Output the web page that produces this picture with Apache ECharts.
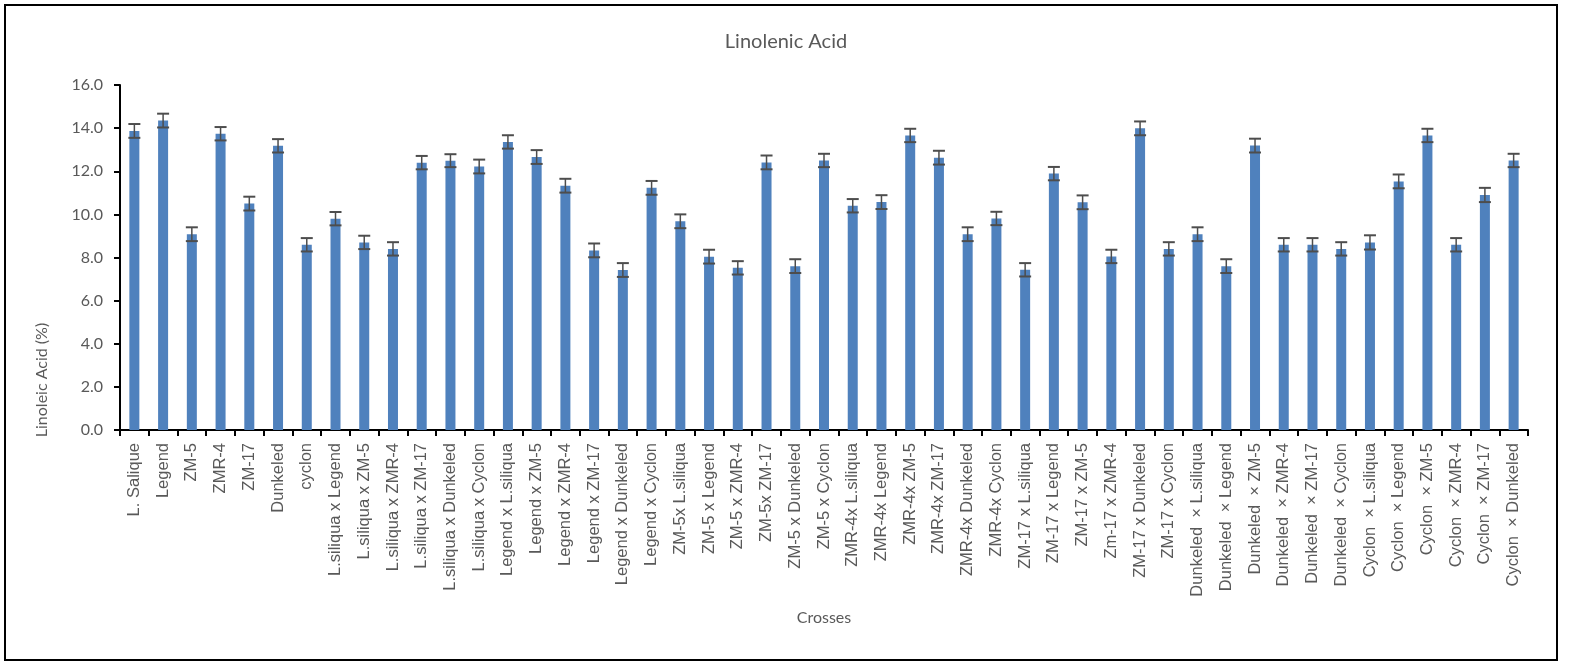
<!DOCTYPE html>
<html>
<head>
<meta charset="utf-8">
<script src="https://cdn.jsdelivr.net/npm/echarts@6/dist/echarts.min.js"></script>
<style>
  html, body { margin: 0; padding: 0; background: #fff; }
  #chart { width: 1583px; height: 666px; }
</style>
</head>
<body>
<div id="chart"></div>
<script>
// Parents and their crosses
const categories = [
  'L. Salique', 'Legend', 'ZM-5', 'ZMR-4', 'ZM-17', 'Dunkeled', 'cyclon',
  'L.siliqua x Legend', 'L.siliqua x ZM-5', 'L.siliqua x ZMR-4', 'L.siliqua x ZM-17',
  'L.siliqua x Dunkeled', 'L.siliqua x Cyclon',
  'Legend x L.siliqua', 'Legend x ZM-5', 'Legend x ZMR-4', 'Legend x ZM-17',
  'Legend x Dunkeled', 'Legend x Cyclon',
  'ZM-5x L.siliqua', 'ZM-5 x Legend', 'ZM-5 x ZMR-4', 'ZM-5x ZM-17',
  'ZM-5 x Dunkeled', 'ZM-5 x Cyclon',
  'ZMR-4x L.siliqua', 'ZMR-4x Legend', 'ZMR-4x ZM-5', 'ZMR-4x ZM-17',
  'ZMR-4x Dunkeled', 'ZMR-4x Cyclon',
  'ZM-17 x L.siliqua', 'ZM-17 x Legend', 'ZM-17 x ZM-5', 'Zm-17 x ZMR-4',
  'ZM-17 x Dunkeled', 'ZM-17 x Cyclon',
  'Dunkeled  \u00d7 L.siliqua', 'Dunkeled  \u00d7 Legend', 'Dunkeled  \u00d7 ZM-5',
  'Dunkeled  \u00d7 ZMR-4', 'Dunkeled  \u00d7 ZM-17', 'Dunkeled  \u00d7 Cyclon',
  'Cyclon  \u00d7 L.siliqua', 'Cyclon  \u00d7 Legend', 'Cyclon  \u00d7 ZM-5',
  'Cyclon  \u00d7 ZMR-4', 'Cyclon  \u00d7 ZM-17', 'Cyclon  \u00d7 Dunkeled'
];

// Mean linolenic acid content (%)
const meanValues = [
  13.87, 14.35, 9.08, 13.74, 10.50, 13.18, 8.59,
  9.80, 8.70, 8.40, 12.40, 12.49, 12.22,
  13.36, 12.66, 11.33, 8.33, 7.42, 11.23,
  9.68, 8.04, 7.52, 12.41, 7.60, 12.50,
  10.40, 10.57, 13.66, 12.63, 9.08, 9.81,
  7.43, 11.89, 10.56, 8.05, 13.99, 8.40,
  9.08, 7.60, 13.19, 8.59, 8.59, 8.40,
  8.70, 11.53, 13.66, 8.59, 10.90, 12.50
];

// Standard error of each mean
const errorValues = [
  0.32, 0.32, 0.32, 0.31, 0.32, 0.31, 0.31,
  0.31, 0.31, 0.31, 0.31, 0.30, 0.32,
  0.31, 0.32, 0.32, 0.32, 0.32, 0.32,
  0.32, 0.32, 0.31, 0.32, 0.32, 0.31,
  0.31, 0.32, 0.31, 0.32, 0.32, 0.31,
  0.31, 0.31, 0.32, 0.31, 0.32, 0.31,
  0.32, 0.32, 0.32, 0.31, 0.31, 0.31,
  0.33, 0.32, 0.31, 0.31, 0.33, 0.31
];

const yTicks = { min: 0, max: 16, interval: 2 };

const textColor = '#595959';
const errorData = meanValues.map((v, i) => [i, v - errorValues[i], v + errorValues[i]]);

const chart = echarts.init(document.getElementById('chart'), null, { renderer: 'canvas' });

chart.setOption({
  animation: false,
  backgroundColor: '#ffffff',
  title: {
    text: 'Linolenic Acid',
    left: 781,
    top: 27,
    textAlign: 'center',
    textStyle: { fontFamily: 'Lato', fontSize: 20, fontWeight: 'normal', color: textColor }
  },
  grid: { left: 120, right: 55, top: 85, bottom: 236, containLabel: false },
  xAxis: {
    type: 'category',
    data: categories,
    axisLine: { lineStyle: { color: '#000', width: 2 } },
    axisTick: { show: true, inside: false, length: 6, interval: 0, lineStyle: { color: '#000', width: 2 } },
    axisLabel: {
      interval: 0,
      rotate: 90,
      margin: 13,
      fontFamily: 'Liberation Sans',
      fontSize: 16.5,
      color: textColor
    }
  },
  yAxis: {
    type: 'value',
    min: yTicks.min,
    max: yTicks.max,
    interval: yTicks.interval,
    splitLine: { show: false },
    axisLine: { show: true, lineStyle: { color: '#000', width: 2 } },
    axisTick: { show: true, inside: false, length: 6, lineStyle: { color: '#000', width: 2 } },
    axisLabel: {
      margin: 17,
      fontFamily: 'Lato',
      fontSize: 16,
      color: textColor,
      formatter: v => v.toFixed(1)
    }
  },
  series: [
    {
      type: 'bar',
      data: meanValues,
      barWidth: 10,
      itemStyle: { color: '#4F81BD' }
    },
    {
      type: 'custom',
      data: errorData,
      z: 10,
      renderItem: function (params, api) {
        const x = api.value(0);
        const lo = api.coord([x, api.value(1)]);
        const hi = api.coord([x, api.value(2)]);
        const half = 6;
        const style = { stroke: '#4d4d4d', lineWidth: 2 };
        return {
          type: 'group',
          children: [
            { type: 'line', shape: { x1: lo[0], y1: lo[1], x2: hi[0], y2: hi[1] }, style: { stroke: '#4d4d4d', lineWidth: 1.5 } },
            { type: 'line', shape: { x1: hi[0] - half, y1: hi[1], x2: hi[0] + half, y2: hi[1] }, style },
            { type: 'line', shape: { x1: lo[0] - half, y1: lo[1], x2: lo[0] + half, y2: lo[1] }, style }
          ]
        };
      }
    }
  ],
  graphic: [
    {
      type: 'rect',
      shape: { x: 5, y: 5, width: 1552, height: 655 },
      style: { fill: 'none', stroke: '#000', lineWidth: 2 },
      silent: true
    },
    {
      type: 'text',
      x: 42,
      y: 380,
      rotation: Math.PI / 2,
      style: {
        text: 'Linoleic Acid (%)',
        fontFamily: 'Lato',
        fontSize: 16,
        fill: textColor,
        align: 'center',
        verticalAlign: 'middle'
      }
    },
    {
      type: 'text',
      x: 824,
      y: 618,
      style: {
        text: 'Crosses',
        fontFamily: 'Lato',
        fontSize: 16,
        fill: textColor,
        align: 'center',
        verticalAlign: 'middle'
      }
    }
  ]
});
</script>
</body>
</html>
